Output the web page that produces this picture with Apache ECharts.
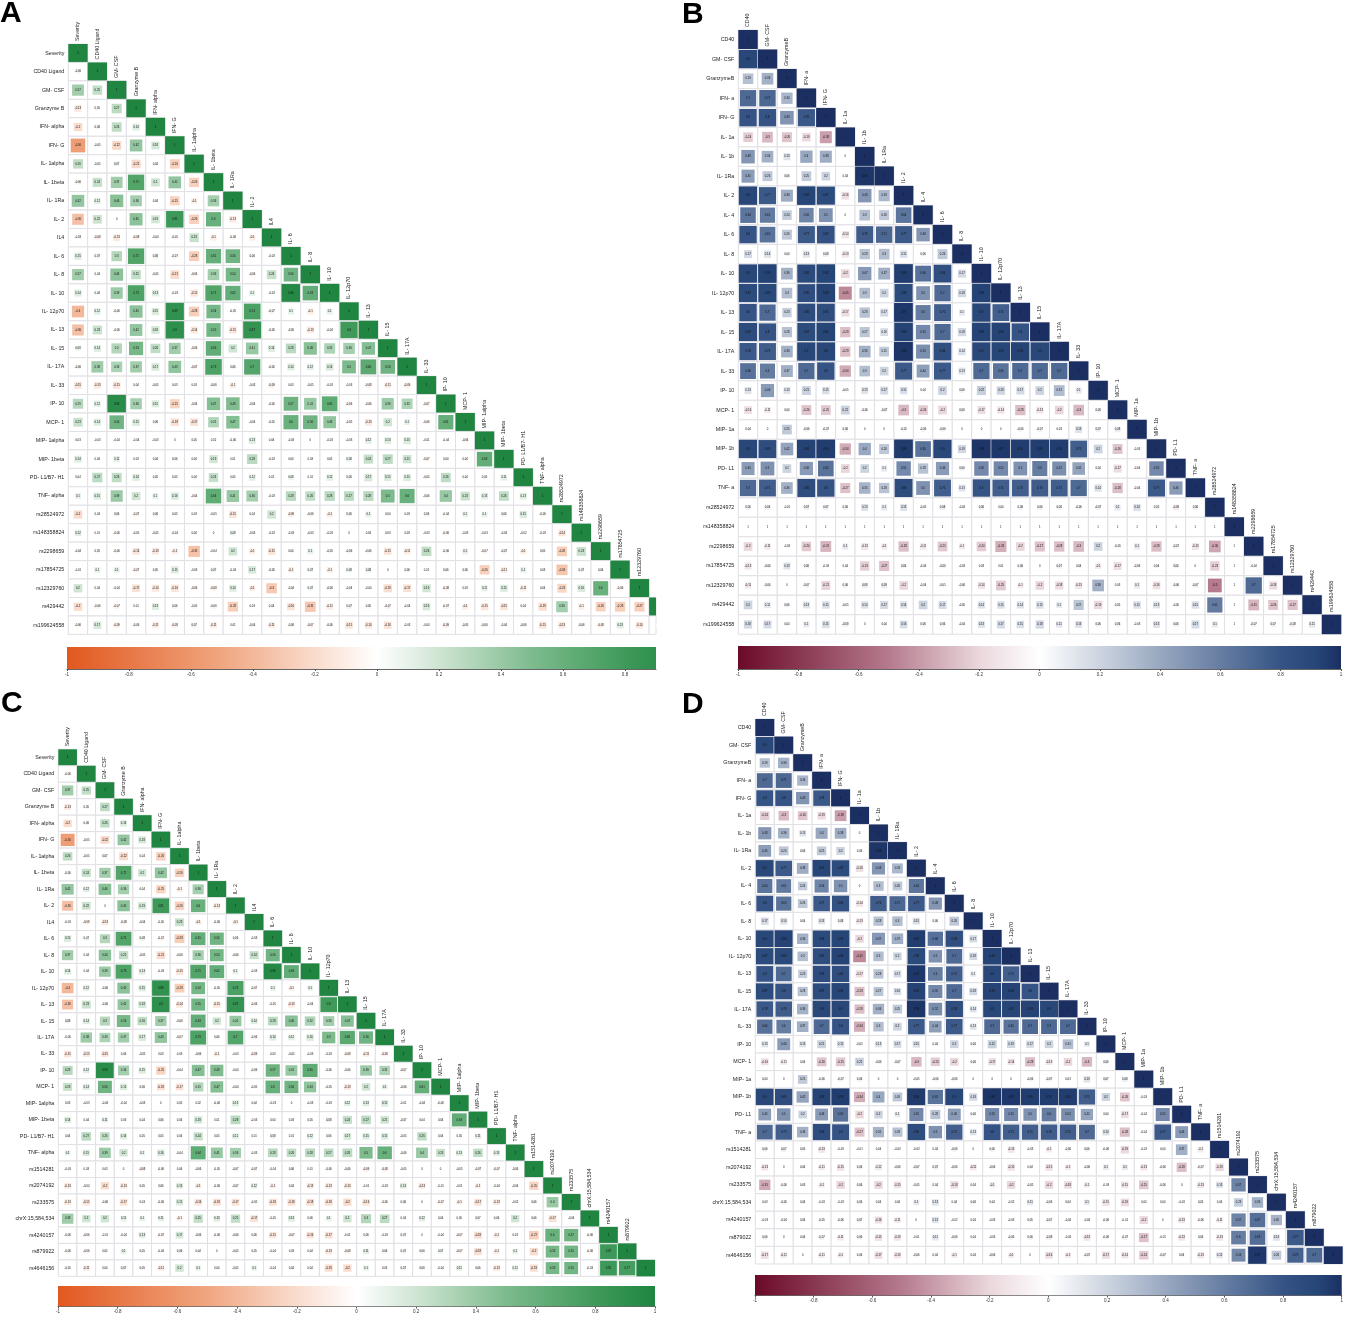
<!DOCTYPE html>
<html>
<head>
<meta charset="utf-8">
<title>Correlation matrices</title>
<script src="https://cdn.jsdelivr.net/npm/echarts@6/dist/echarts.min.js"></script>
<style>
html, body { margin: 0; padding: 0; background: #fff; }
#main { width: 1346px; height: 1318px; }
</style>
</head>
<body>
<div id="main"></div>
<script>
// labels
const labelsAC = ['Severity', 'CD40 Ligand', 'GM- CSF', 'Granzyme B', 'IFN- alpha', 'IFN- G', 'IL- 1alpha', 'IL- 1beta', 'IL- 1Ra', 'IL- 2', 'IL4', 'IL- 6', 'IL- 8', 'IL- 10', 'IL- 12p70', 'IL- 13', 'IL- 15', 'IL- 17A', 'IL- 33', 'IP- 10', 'MCP- 1', 'MIP- 1alpha', 'MIP- 1beta', 'PD- L1/B7- H1', 'TNF- alpha']
const labelsBD = ['CD40', 'GM- CSF', 'GranzymeB', 'IFN- a', 'IFN- G', 'IL- 1a', 'IL- 1b', 'IL- 1Ra', 'IL- 2', 'IL- 4', 'IL- 6', 'IL- 8', 'IL- 10', 'IL- 12p70', 'IL- 13', 'IL- 15', 'IL- 17A', 'IL- 33', 'IP- 10', 'MCP- 1', 'MIP- 1a', 'MIP- 1b', 'PD- L1', 'TNF- a']
const snpsAB = ['rs28524972', 'rs148358824', 'rs2298659', 'rs17854725', 'rs12329760', 'rs429442', 'rs199624558']
const snpsC = ['rs1514281', 'rs2074192', 'rs233575', 'chrX:15,584,534', 'rs4240157', 'rs879922', 'rs4646156']
const snpsD = ['rs1514281', 'rs2074192', 'rs233575', 'chrX:15,584,534', 'rs4240157', 'rs879022', 'rs4646156']
const colorbarTicks = [-1, -0.8, -0.6, -0.4, -0.2, 0, 0.2, 0.4, 0.6, 0.8, 1]

// lower triangles, diagonal left out
const cytokinesAC = [
  [],
  [-0.06],
  [0.37, 0.25],
  [-0.13, 0.05, 0.27],
  [-0.2, 0.06, 0.26, 0.14],
  [-0.56, -0.05, -0.22, 0.42, 0.18],
  [0.26, -0.05, 0.07, -0.22, 0.04, -0.26],
  [-0.06, 0.24, 0.37, 0.71, 0.2, 0.42, -0.26],
  [0.42, 0.12, 0.46, 0.36, 0.04, -0.25, -0.1, 0.36],
  [-0.36, 0.22, 0, 0.45, 0.19, 0.81, -0.26, 0.6, -0.13],
  [-0.03, -0.08, -0.13, -0.08, -0.04, -0.05, 0.23, -0.1, -0.06, -0.1],
  [0.15, 0.07, 0.3, 0.71, 0.08, -0.07, -0.28, 0.61, 0.56, 0.06, -0.03],
  [0.37, 0.04, 0.44, 0.25, -0.05, -0.21, -0.06, 0.36, 0.54, -0.06, 0.24, 0.56],
  [0.14, 0.04, 0.39, 0.73, 0.13, -0.03, -0.15, 0.71, 0.62, 0.1, -0.03, 0.96, 0.63],
  [-0.4, 0.12, -0.06, 0.45, 0.15, 0.89, -0.28, 0.54, -0.05, 0.74, -0.07, 0.1, -0.1, 0.1],
  [-0.36, 0.23, -0.06, 0.42, 0.18, 0.9, -0.14, 0.55, -0.15, 0.87, -0.06, -0.05, -0.13, -0.04, 0.8],
  [0.08, 0.14, 0.3, 0.53, 0.26, 0.37, -0.06, 0.63, 0.2, 0.41, 0.14, 0.28, 0.46, 0.32, 0.36, 0.47],
  [-0.06, 0.38, 0.33, 0.37, 0.17, 0.43, -0.07, 0.73, 0.06, 0.7, -0.06, 0.14, 0.12, 0.16, 0.5, 0.66, 0.56],
  [-0.15, -0.13, -0.15, 0.04, -0.05, 0.03, 0.03, -0.06, -0.1, -0.03, -0.09, 0.03, -0.05, -0.03, -0.03, -0.08, -0.11, -0.09],
  [0.29, 0.12, 0.93, 0.36, 0.15, -0.25, -0.04, 0.47, 0.49, -0.04, -0.06, 0.57, 0.41, 0.65, -0.06, -0.06, 0.39, 0.32, -0.07],
  [0.23, 0.14, 0.56, 0.15, 0.06, -0.18, -0.17, 0.31, 0.47, -0.04, -0.05, 0.6, 0.56, 0.43, -0.05, -0.13, 0.2, 0.1, -0.06, 0.61],
  [0.03, -0.03, -0.04, -0.04, -0.03, 0, 0.05, 0.02, -0.06, 0.13, 0.04, -0.03, 0, -0.03, -0.03, 0.12, 0.13, 0.15, -0.01, -0.04, -0.06],
  [0.14, 0.04, 0.11, 0.03, 0.04, 0.06, 0.04, 0.19, 0.01, 0.28, -0.03, 0.04, 0.03, 0.05, 0.08, 0.24, 0.27, 0.21, -0.07, 0.04, 0.04, 0.63],
  [0.04, 0.27, 0.26, 0.14, 0.05, 0.05, 0.04, 0.24, 0.05, 0.12, 0.01, 0.08, 0.01, 0.12, 0.06, 0.17, 0.15, 0.15, -0.05, 0.26, 0.04, 0.05, 0.11],
  [0.1, 0.15, 0.39, 0.2, 0.1, 0.16, -0.04, 0.64, 0.41, 0.36, -0.03, 0.28, 0.26, 0.28, 0.27, 0.28, 0.5, 0.6, -0.06, 0.4, 0.23, 0.13, 0.26, 0.13]
]
const snpRowsA = [
  [-0.2, 0.04, 0.06, -0.07, 0.06, 0.05, 0.03, -0.05, -0.15, 0.04, 0.2, -0.09, -0.06, -0.1, 0.06, 0.1, 0.04, 0.03, 0.06, -0.04, 0.1, 0.1, 0.06, 0.15, -0.06],
  [0.12, 0.01, -0.06, -0.05, -0.05, -0.04, 0.04, 0, 0.08, -0.03, -0.03, -0.03, -0.03, -0.03, 0, 0.03, 0.03, 0.03, -0.03, -0.06, -0.03, -0.03, -0.03, -0.02, -0.03, -0.14],
  [-0.04, 0.05, -0.06, -0.14, -0.13, -0.1, -0.35, -0.04, 0.2, -0.1, -0.15, 0.04, 0.1, -0.05, -0.06, -0.06, -0.15, -0.11, 0.26, -0.06, 0.1, -0.07, -0.07, -0.1, 0.05, -0.28, 0.23],
  [-0.01, 0.1, 0.1, -0.07, 0.05, 0.15, -0.03, 0.07, -0.04, 0.17, -0.06, -0.1, 0.07, -0.1, 0.08, 0.08, 0, 0.06, 0.01, 0.06, 0.06, -0.26, -0.11, 0.1, 0.03, -0.33, 0.07, 0.04],
  [0.2, 0.04, -0.04, -0.17, -0.14, -0.16, -0.06, -0.08, 0.14, -0.1, -0.3, -0.04, 0.07, -0.06, -0.04, -0.04, -0.19, -0.17, 0.19, -0.08, 0.03, 0.11, 0.15, -0.11, 0.04, -0.23, 0.16, 0.6, -0.06],
  [-0.2, -0.06, -0.07, 0.01, 0.13, 0.06, -0.05, -0.06, -0.28, 0.03, 0.04, -0.16, -0.31, -0.11, 0.07, 0.05, -0.07, -0.04, 0.16, -0.07, -0.1, -0.15, -0.15, 0.04, -0.19, 0.36, -0.1, -0.26, -0.28, -0.27],
  [-0.06, 0.17, -0.09, -0.06, -0.11, -0.08, 0.07, -0.11, 0.01, -0.04, -0.11, -0.06, -0.07, -0.06, -0.15, -0.14, -0.16, -0.03, -0.04, -0.09, -0.05, -0.06, -0.04, -0.06, -0.15, -0.13, -0.06, -0.08, 0.13, -0.14, -0.03]
]
const snpRowsC = [
  [-0.03, 0.03, 0.03, 0, -0.08, -0.06, 0.04, -0.06, -0.05, -0.07, -0.07, -0.04, 0.06, 0.01, -0.06, -0.06, -0.09, -0.08, -0.05, 0, 0, -0.05, -0.07, -0.07, -0.06],
  [-0.13, -0.04, -0.2, -0.13, 0.05, 0.06, 0.13, -0.1, -0.06, -0.07, 0.12, -0.1, 0.04, -0.13, -0.13, -0.13, -0.01, -0.03, 0.13, -0.13, -0.01, -0.01, -0.1, -0.04, -0.04, -0.25],
  [-0.13, -0.15, -0.06, -0.17, 0.03, -0.06, 0.15, -0.16, -0.18, -0.17, -0.05, -0.18, -0.18, -0.18, -0.18, -0.2, -0.16, -0.06, 0.06, 0, -0.07, -0.1, -0.17, -0.13, -0.02, 0.06, 0.4],
  [0.38, 0.2, 0.2, 0.11, 0.1, 0.11, -0.1, 0.25, 0.13, 0.25, -0.17, -0.05, 0.13, 0.06, 0.1, 0.2, 0.3, 0.27, 0.04, 0.12, 0.04, 0.05, 0.07, 0.06, 0.2, 0.06, -0.17, -0.04],
  [-0.06, -0.06, -0.01, -0.04, 0.13, -0.07, 0.17, -0.06, -0.06, -0.06, 0.06, -0.15, -0.07, -0.16, -0.17, -0.01, 0.06, -0.03, 0.07, 0, -0.04, -0.07, -0.18, -0.1, 0.03, -0.27, 0.6, 0.57, -0.06],
  [-0.06, -0.06, 0.05, 0.1, 0.05, -0.04, 0.06, 0.04, 0, -0.05, 0.05, -0.04, 0.03, 0.04, -0.13, -0.08, 0.11, 0.06, 0.07, 0.06, 0.07, -0.07, -0.18, -0.1, 0.1, -0.2, 0.53, 0.55, -0.06, 0.81],
  [-0.05, -0.11, 0.04, 0.07, 0.05, -0.11, 0.2, 0.1, 0.04, -0.05, 0.1, -0.04, 0.04, 0.04, -0.19, -0.2, 0.1, 0.03, 0.07, 0.06, -0.04, 0.11, 0.06, -0.13, 0.11, -0.19, 0.53, 0.55, -0.03, 0.81, 0.77]
]
const cytokinesBD = [
  [],
  [0.9],
  [0.29, 0.36],
  [0.7, 0.71, 0.34],
  [0.8, 0.8, 0.49, 0.78],
  [-0.24, -0.3, -0.26, -0.19, -0.38],
  [0.48, 0.36, 0.13, 0.4, 0.38, 0],
  [0.45, 0.26, 0.06, 0.25, 0.2, 0.04, 0.98],
  [0.9, 0.77, 0.38, 0.92, 0.87, -0.16, 0.48, 0.33],
  [0.64, 0.61, 0.24, 0.56, 0.5, 0, 0.3, 0.26, 0.64],
  [0.8, 0.65, 0.26, 0.77, 0.82, -0.14, 0.76, 0.71, 0.77, 0.48],
  [0.17, 0.14, 0.04, 0.13, 0.08, -0.13, 0.28, 0.3, 0.15, 0.06, 0.26],
  [0.9, 0.93, 0.36, 0.88, 0.92, -0.2, 0.47, 0.37, 0.95, 0.66, 0.84, 0.17],
  [0.87, 0.89, 0.3, 0.85, 0.93, -0.45, 0.3, 0.2, 0.88, 0.5, 0.7, 0.18, 0.93],
  [0.8, 0.7, 0.23, 0.86, 0.85, -0.17, 0.28, 0.17, 0.97, 0.6, 0.75, 0.1, 0.9, 0.75],
  [0.87, 0.8, 0.28, 0.87, 0.92, -0.28, 0.27, 0.16, 0.93, 0.55, 0.7, 0.18, 0.93, 0.93, 0.8],
  [0.78, 0.76, 0.36, 0.9, 0.9, -0.28, 0.36, 0.25, 0.98, 0.52, 0.84, 0.14, 0.9, 0.92, 0.93, 0.9],
  [0.66, 0.6, 0.37, 0.7, 0.8, -0.34, 0.3, 0.2, 0.77, 0.44, 0.77, 0.13, 0.7, 0.65, 0.7, 0.7, 0.7],
  [0.13, 0.46, 0.13, 0.21, 0.15, -0.05, 0.13, 0.17, 0.15, 0.04, 0.2, 0.06, 0.22, 0.19, 0.17, 0.2, 0.31, 0.1],
  [-0.16, -0.11, 0.04, -0.26, -0.25, 0.21, -0.06, -0.07, -0.3, -0.24, -0.2, 0.06, -0.17, -0.14, -0.28, -0.13, -0.2, -0.3, 0.06],
  [0.04, 0, 0.25, -0.06, -0.07, 0.06, 0, 0, -0.05, -0.06, -0.06, 0, 0, 0, -0.06, -0.07, 0.03, 0.13, 0.07, 0.08],
  [0.9, 0.85, 0.42, 0.93, 0.95, -0.34, 0.4, 0.26, 0.96, 0.65, 0.9, 0.18, 0.98, 0.97, 0.95, 0.95, 0.95, 0.75, 0.2, -0.26, -0.03],
  [0.45, 0.5, 0.2, 0.46, 0.65, -0.2, 0.2, 0.1, 0.55, 0.28, 0.46, 0.06, 0.55, 0.55, 0.5, 0.6, 0.52, 0.42, 0.04, -0.17, -0.04, 0.55],
  [0.7, 0.75, 0.36, 0.86, 0.8, -0.27, 0.35, 0.28, 0.86, 0.5, 0.75, 0.13, 0.8, 0.75, 0.75, 0.76, 0.75, 0.7, 0.14, -0.28, -0.04, 0.77, 0.46]
]
// null = the blank rs148358824 line, printed as 1 with no square
const n = null
const snpRowsB = [
  [0.06, 0.06, -0.01, 0.07, 0.07, 0.06, 0.13, 0.1, 0.13, -0.05, 0.08, -0.04, 0.06, 0.04, 0.06, 0.06, 0.06, -0.06, -0.07, 0.1, 0.14, 0.05, -0.09, 0.06],
  [n, n, n, n, n, n, n, n, n, n, n, n, n, n, n, n, n, n, n, n, n, n, n, n, n],
  [-0.2, -0.11, -0.03, -0.24, -0.31, 0.1, -0.13, -0.1, -0.28, -0.11, -0.25, -0.1, -0.24, -0.33, -0.2, -0.27, -0.28, -0.3, 0.2, -0.05, 0.1, -0.28, -0.07, -0.13, -0.36, n],
  [-0.13, -0.06, 0.13, 0.06, -0.03, 0.04, -0.23, -0.27, 0.06, -0.04, -0.06, -0.03, 0.03, 0.01, 0.06, 0, 0.07, 0.04, -0.1, -0.17, -0.06, 0.04, 0.06, 0, -0.23, n, -0.04],
  [-0.11, -0.06, 0, -0.07, -0.21, 0.06, 0.08, 0.09, -0.2, -0.04, -0.05, -0.06, -0.14, -0.25, -0.1, -0.2, -0.18, -0.13, 0.36, 0.03, 0.1, -0.16, -0.06, -0.07, -0.5, n, 0.7, -0.18],
  [0.2, 0.11, 0.06, 0.13, 0.15, -0.05, 0.14, 0.17, 0.14, 0.2, 0.17, -0.05, 0.14, 0.15, 0.14, 0.15, 0.1, 0.27, -0.19, 0.05, 0.15, 0.13, -0.05, 0.15, 0.61, n, -0.31, -0.26, -0.27],
  [0.18, 0.17, 0.04, 0.1, 0.15, -0.08, 0, 0.04, 0.16, 0.06, 0.06, -0.04, 0.13, 0.17, 0.15, 0.18, 0.11, 0.13, 0.06, 0.06, -0.03, 0.13, 0.06, 0.17, 0.1, n, -0.07, 0.07, -0.08, 0.11]
]
const snpRowsD = [
  [0.06, 0.07, 0.05, -0.13, -0.03, -0.01, 0.04, -0.03, -0.03, 0.04, -0.06, 0, 0.06, -0.13, -0.03, -0.1, -0.06, 0.06, -0.06, -0.19, -0.03, 0.04, 0.37, -0.1],
  [-0.13, 0, 0.04, -0.11, -0.15, 0.06, -0.12, -0.06, -0.07, 0.07, -0.06, -0.12, -0.06, -0.15, 0.04, -0.15, -0.1, -0.06, 0.1, 0.1, -0.13, -0.06, -0.28, -0.07, -0.19],
  [-0.35, -0.06, 0.03, -0.1, -0.2, 0.06, -0.2, -0.15, -0.05, 0.04, -0.18, 0.04, -0.1, -0.2, -0.05, -0.2, -0.18, -0.1, -0.03, -0.15, -0.25, -0.06, 0, -0.13, 0.13, 0.57],
  [0.03, -0.06, 0.04, -0.03, -0.03, 0.06, 0.04, 0.04, 0.1, 0.13, 0.04, 0.06, 0.04, -0.02, 0.11, -0.06, 0.04, 0.1, -0.15, -0.19, 0.04, 0.04, -0.03, 0.05, 0.04, 0.23, 0.36],
  [-0.03, -0.04, 0.04, -0.05, -0.06, 0.07, -0.16, -0.11, 0, 0.13, -0.02, 0.04, -0.03, -0.03, 0.05, -0.07, -0.04, -0.04, -0.06, -0.01, -0.2, 0, -0.13, -0.06, -0.11, 0.57, 0.67, 0.35],
  [0.06, 0, 0.04, -0.07, -0.11, 0.06, -0.15, -0.13, -0.01, 0.11, -0.06, 0.04, -0.03, -0.06, 0.06, -0.08, -0.03, -0.13, -0.06, -0.07, -0.27, -0.01, -0.13, 0.06, -0.13, 0.6, 0.68, 0.13, 0.77],
  [-0.17, -0.11, 0, -0.11, -0.1, 0.04, -0.17, -0.13, -0.06, 0.04, -0.1, 0.04, -0.06, -0.1, 0, -0.16, -0.1, -0.07, -0.17, -0.14, -0.24, -0.07, 0.04, -0.13, 0.12, 0.54, 0.97, 0.26, 0.73, 0.7]
]

// colour ramps, [value, colour]
const rampGreen = [[-1, '#e2581f'], [-0.5, '#f0a680'], [-0.2, '#f9dccd'], [0, '#ffffff'], [0.2, '#cfe5d3'], [0.5, '#7dbb8d'], [0.8, '#3f9a5a'], [1, '#1f8540']]
const rampBlue = [[-1, '#6b0a28'], [-0.5, '#b57a8d'], [-0.2, '#ead7dc'], [0, '#ffffff'], [0.2, '#ccd4e0'], [0.5, '#7f92b1'], [0.8, '#355485'], [0.92, '#264677'], [1, '#1b2f63']]

const panels = [
  { tag: 'A', labels: labelsAC.concat(snpsAB), rows: cytokinesAC.concat(snpRowsA), ramp: rampGreen,
    left: 68.3, top: 44, cellW: 19.36, cellH: 18.45, right: 656, barLeft: 67, barRight: 656, barUnit: 310, barTop: 647, barH: 22 },
  { tag: 'B', labels: labelsBD.concat(snpsAB), rows: cytokinesBD.concat(snpRowsB), ramp: rampBlue,
    left: 738.3, top: 30, cellW: 19.45, cellH: 19.49, right: 1341.3, barLeft: 738, barRight: 1341, barUnit: 301.5, barTop: 646, barH: 23 },
  { tag: 'C', labels: labelsAC.concat(snpsC), rows: cytokinesAC.concat(snpRowsC), ramp: rampGreen,
    left: 58.3, top: 749.3, cellW: 18.65, cellH: 16.47, right: 655, barLeft: 58, barRight: 655, barUnit: 298.5, barTop: 1286, barH: 20.5 },
  { tag: 'D', labels: labelsBD.concat(snpsD), rows: cytokinesBD.concat(snpRowsD), ramp: rampBlue,
    left: 755.3, top: 719, cellW: 18.95, cellH: 17.58, right: 1342.7, barLeft: 755, barRight: 1342, barUnit: 293.5, barTop: 1275, barH: 20.5 }
]
const letterPos = { A: [0, -1], B: [682, 0], C: [1, 689], D: [682, 690] }
const FONT = '"Liberation Sans", Arial, sans-serif'

function hex (c) {
  return [1, 3, 5].map(i => parseInt(c.substr(i, 2), 16))
}
function colorAt (ramp, v) {
  for (let i = 1; i < ramp.length; i++) {
    if (v <= ramp[i][0]) {
      const t = (v - ramp[i - 1][0]) / (ramp[i][0] - ramp[i - 1][0])
      const a = hex(ramp[i - 1][1])
      const b = hex(ramp[i][1])
      return 'rgb(' + a.map((x, k) => Math.round(x + (b[k] - x) * t)).join(',') + ')'
    }
  }
  return ramp[ramp.length - 1][1]
}

const option = {
  animation: false,
  backgroundColor: '#fff',
  textStyle: { fontFamily: FONT },
  grid: [], xAxis: [], yAxis: [], series: [],
  graphic: panels.map(p => ({
    type: 'text', left: letterPos[p.tag][0], top: letterPos[p.tag][1],
    style: { text: p.tag, fontSize: 30, fontWeight: 'bold', fontFamily: FONT, fill: '#000' }
  }))
}

panels.forEach(function (p, idx) {
  const size = p.labels.length
  const cells = []
  p.rows.forEach(function (row, r) {
    row.forEach((v, c) => cells.push([c, r, v]))
    cells.push([r, r, 1])
  })
  const maxX = (p.right - p.left) / p.cellW - 0.5

  // matrix
  option.grid.push({ left: p.left, top: p.top, width: p.right - p.left, height: p.cellH * size })
  option.xAxis.push({ gridIndex: idx * 2, type: 'value', min: -0.5, max: maxX, show: false })
  option.yAxis.push({
    gridIndex: idx * 2, type: 'category', inverse: true, data: p.labels,
    axisLine: { show: false }, axisTick: { show: false }, splitLine: { show: false },
    axisLabel: { interval: 0, fontSize: 5.3, margin: 4, color: '#222', fontFamily: FONT }
  })
  option.series.push({
    type: 'custom', xAxisIndex: idx * 2, yAxisIndex: idx * 2, silent: true,
    encode: { x: 0, y: 1 },
    data: cells.map(d => [d[0], d[1]]),
    renderItem: function (params, api) {
      const cell = cells[params.dataIndex]
      const c = cell[0]
      const r = cell[1]
      const v = cell[2]
      const pt = api.coord([c, r])
      const sz = api.size([1, 1])
      const x0 = pt[0] - sz[0] / 2
      const y0 = pt[1] - sz[1] / 2
      if (x0 >= p.right) return null
      const w = Math.min(sz[0], p.right - x0)
      const kids = [{
        type: 'rect', shape: { x: x0, y: y0, width: w, height: sz[1] },
        style: { fill: '#fff', stroke: '#e0e0e5', lineWidth: 1 }
      }]
      if (v !== null) {
        const k = Math.sqrt(Math.abs(v))
        const bw = sz[0] * k
        const bh = sz[1] * k
        const bx = pt[0] - bw / 2
        kids.push({
          type: 'rect',
          shape: { x: bx, y: pt[1] - bh / 2, width: Math.min(bw, p.right - bx), height: bh },
          style: { fill: colorAt(p.ramp, v) }
        })
      }
      if (pt[0] < p.right) {
        kids.push({
          type: 'text',
          style: { x: pt[0], y: pt[1], text: v === null ? '1' : String(v), fontSize: 2.8, fontFamily: FONT, fill: '#111', align: 'center', verticalAlign: 'middle' }
        })
      }
      if (c === r && x0 + sz[0] <= p.right) {
        kids.push({
          type: 'text', x: pt[0], y: y0 - 3, rotation: Math.PI / 2,
          style: { x: 0, y: 0, text: p.labels[c], fontSize: 5.3, fontFamily: FONT, fill: '#222', align: 'left', verticalAlign: 'middle' }
        })
      }
      return { type: 'group', children: kids }
    }
  })

  // colour bar
  const stops = p.ramp.map(s => ({ offset: (s[0] + 1) / 2, color: s[1] }))
  const barMax = (p.barRight - p.barLeft) / p.barUnit - 1
  option.grid.push({ left: p.barLeft, top: p.barTop, width: p.barRight - p.barLeft, height: p.barH })
  const shownTicks = colorbarTicks.filter(t => t <= barMax + 0.001)
  option.xAxis.push({
    gridIndex: idx * 2 + 1, type: 'value', min: -1, max: barMax,
    splitLine: { show: false },
    axisLine: { lineStyle: { color: '#666', width: 1 } },
    axisTick: { length: 2, lineStyle: { color: '#555' }, customValues: shownTicks },
    axisLabel: { fontSize: 4.5, margin: 3, color: '#333', fontFamily: FONT, customValues: shownTicks }
  })
  option.yAxis.push({ gridIndex: idx * 2 + 1, type: 'value', min: 0, max: 1, show: false })
  option.series.push({
    type: 'custom', xAxisIndex: idx * 2 + 1, yAxisIndex: idx * 2 + 1, silent: true, clip: true,
    encode: { x: 0, y: 1 },
    data: [[-1, 0]],
    renderItem: function (params, api) {
      const a = api.coord([-1, 1])
      const b = api.coord([1, 0])
      return {
        type: 'rect', shape: { x: a[0], y: a[1], width: b[0] - a[0], height: b[1] - a[1] },
        style: { fill: new echarts.graphic.LinearGradient(0, 0, 1, 0, stops) }
      }
    }
  })
})

const myChart = echarts.init(document.getElementById('main'), null, { renderer: 'canvas' })
myChart.setOption(option)
</script>
</body>
</html>
